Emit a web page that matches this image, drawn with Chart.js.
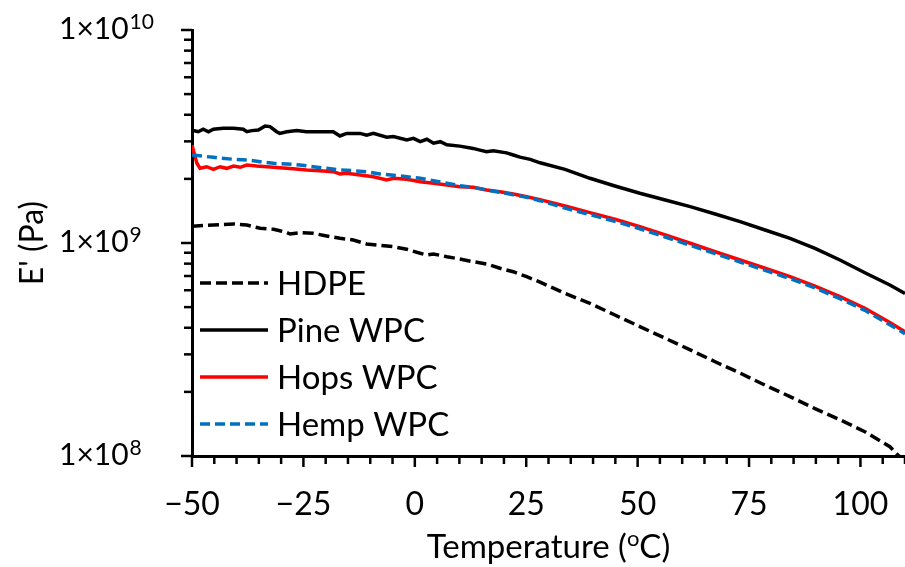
<!DOCTYPE html>
<html>
<head>
<meta charset="utf-8">
<title>E' vs temperature</title>
<script src="https://cdn.jsdelivr.net/npm/chart.js@4.4.0/dist/chart.umd.min.js"></script>
<style>
    html, body { margin: 0; padding: 0; background: #fff; }
    #wrap { width: 905px; height: 567px; position: relative; }
</style>
</head>
<body>
<div id="wrap"><canvas id="dma-chart"></canvas></div>
<script>
/* Storage modulus E' (Pa) vs temperature (oC) */
var hdpeT = [-50, -45.2, -40.7, -37.7, -34.7, -31.7, -30.3, -28.7, -28.0, -25.8, -22.8, -19.8, -16.8, -13.8, -10.8, -7.8, -4.8, -1.8, 1.2, 2.7, 4.2, 7.2, 10.1, 13.1, 16.1, 19.1, 22.1, 25.1, 28.1, 33.7, 39.3, 44.9, 50.5, 56.2, 61.8, 67.4, 73.0, 78.6, 84.2, 89.8, 95.4, 101.0, 106.6, 108.4, 110];
var hdpeE = [1.20e9, 1.215e9, 1.228e9, 1.215e9, 1.172e9, 1.160e9, 1.142e9, 1.118e9, 1.102e9, 1.118e9, 1.110e9, 1.079e9, 1.052e9, 1.033e9, 9.89e8, 9.75e8, 9.61e8, 9.34e8, 8.95e8, 8.78e8, 8.88e8, 8.62e8, 8.41e8, 8.17e8, 7.97e8, 7.61e8, 7.33e8, 6.95e8, 6.55e8, 5.80e8, 5.21e8, 4.59e8, 4.05e8, 3.57e8, 3.15e8, 2.77e8, 2.45e8, 2.15e8, 1.90e8, 1.67e8, 1.48e8, 1.30e8, 1.106e8, 1.011e8, 9.5e7];

var pineT = [-50, -48.6, -47.5, -46.3, -45.2, -43.0, -40.7, -38.5, -37.7, -36.6, -35.1, -33.6, -32.5, -31.0, -30.3, -28.7, -26.5, -24.3, -21.3, -18.3, -16.8, -15.3, -12.3, -10.8, -9.3, -6.3, -4.8, -1.8, -0.3, 1.2, 2.7, 4.2, 5.7, 7.2, 10.1, 13.1, 14.6, 16.1, 17.6, 20.6, 22.1, 23.6, 25.9, 28.1, 33.7, 39.3, 44.9, 50.5, 56.2, 61.8, 67.4, 73.0, 78.6, 84.2, 89.8, 95.4, 101.0, 106.6, 110];
var pineE = [3.39e9, 3.33e9, 3.42e9, 3.33e9, 3.42e9, 3.46e9, 3.46e9, 3.42e9, 3.33e9, 3.37e9, 3.39e9, 3.54e9, 3.52e9, 3.33e9, 3.27e9, 3.33e9, 3.37e9, 3.33e9, 3.33e9, 3.33e9, 3.18e9, 3.27e9, 3.27e9, 3.21e9, 3.27e9, 3.14e9, 3.16e9, 3.05e9, 3.10e9, 2.99e9, 3.07e9, 2.94e9, 2.99e9, 2.89e9, 2.85e9, 2.78e9, 2.73e9, 2.68e9, 2.71e9, 2.65e9, 2.59e9, 2.53e9, 2.47e9, 2.38e9, 2.218e9, 2.013e9, 1.852e9, 1.712e9, 1.592e9, 1.481e9, 1.369e9, 1.259e9, 1.151e9, 1.052e9, 9.44e8, 8.32e8, 7.25e8, 6.35e8, 5.80e8];

var hopsT = [-50, -48.9, -48.2, -46.7, -45.2, -43.7, -42.2, -40.7, -39.2, -37.7, -35.5, -33.2, -30.3, -27.3, -24.3, -21.3, -18.3, -16.8, -15.3, -12.3, -9.3, -6.3, -4.8, -1.8, 1.2, 4.2, 7.2, 10.1, 13.1, 16.1, 19.1, 22.1, 25.1, 28.1, 33.7, 39.3, 44.9, 50.5, 56.2, 61.8, 67.4, 73.0, 78.6, 84.2, 89.8, 95.4, 101.0, 106.6, 110];
var hopsE = [2.88e9, 2.367e9, 2.242e9, 2.281e9, 2.218e9, 2.281e9, 2.242e9, 2.299e9, 2.267e9, 2.324e9, 2.299e9, 2.281e9, 2.257e9, 2.233e9, 2.201e9, 2.185e9, 2.161e9, 2.108e9, 2.124e9, 2.086e9, 2.048e9, 1.976e9, 2.013e9, 1.991e9, 1.940e9, 1.907e9, 1.872e9, 1.838e9, 1.826e9, 1.774e9, 1.741e9, 1.698e9, 1.650e9, 1.598e9, 1.492e9, 1.388e9, 1.292e9, 1.193e9, 1.091e9, 9.97e8, 9.10e8, 8.32e8, 7.61e8, 6.95e8, 6.28e8, 5.60e8, 4.94e8, 4.23e8, 3.83e8];

var hempT = [-50, -45.2, -40.7, -37.7, -34.7, -31.7, -28.7, -25.8, -22.8, -19.8, -16.8, -13.8, -10.8, -7.8, -4.8, -1.8, 1.2, 4.2, 7.2, 10.1, 13.1, 16.1, 19.1, 22.1, 25.1, 28.1, 33.7, 39.3, 44.9, 50.5, 56.2, 61.8, 67.4, 73.0, 78.6, 84.2, 89.8, 95.4, 101.0, 106.6, 110];
var hempE = [2.589e9, 2.525e9, 2.472e9, 2.454e9, 2.408e9, 2.367e9, 2.349e9, 2.324e9, 2.281e9, 2.242e9, 2.201e9, 2.185e9, 2.161e9, 2.108e9, 2.079e9, 2.048e9, 2.013e9, 1.961e9, 1.907e9, 1.858e9, 1.826e9, 1.774e9, 1.730e9, 1.686e9, 1.639e9, 1.580e9, 1.460e9, 1.358e9, 1.265e9, 1.167e9, 1.067e9, 9.75e8, 8.91e8, 8.14e8, 7.44e8, 6.80e8, 6.15e8, 5.48e8, 4.83e8, 4.13e8, 3.75e8];

var seriesNames = ['HDPE', 'Pine WPC', 'Hops WPC', 'Hemp WPC'];
var xTickStep = 5, xMajorStep = 25;
var xMin = -50, xMax = 110;
var yMin = 1e8, yMax = 1e10;
var yTickValues = [1e8, 2e8, 3e8, 4e8, 5e8, 6e8, 7e8, 8e8, 9e8,
                   1e9, 2e9, 3e9, 4e9, 5e9, 6e9, 7e9, 8e9, 9e9, 1e10];

var FONT = 'Lato, "Open Sans", sans-serif';

function pts(t, e) {
    return t.map(function(v, i) { return { x: v, y: e[i] }; });
}

/* ── Axis ticks, y labels, x title, legend ── */
var decor = {
    id: 'decor',
    afterDraw: function(chart) {
        var ctx = chart.ctx, area = chart.chartArea;
        var xs = chart.scales.x, ys = chart.scales.y;
        ctx.save();
        ctx.strokeStyle = '#000';
        ctx.fillStyle = '#000';
        ctx.lineWidth = 2.5;

        // y ticks + labels
        yTickValues.forEach(function(v) {
            var y = ys.getPixelForValue(v);
            var exp = Math.round(Math.log10(v));
            var major = Math.abs(v - Math.pow(10, exp)) < 1;
            ctx.beginPath();
            ctx.moveTo(area.left - (major ? 11 : 8), y);
            ctx.lineTo(area.left, y);
            ctx.stroke();
            if (major) {
                ctx.textAlign = 'left';
                ctx.textBaseline = 'alphabetic';
                ctx.font = '30px ' + FONT;
                ctx.fillText('1\u00D710', 59, y + 9);
                var w = ctx.measureText('1\u00D710').width;
                ctx.font = '21px ' + FONT;
                ctx.fillText(String(exp), 59 + w + 1, y - 1);
            }
        });

        // x ticks
        for (var t = xMin; t <= xMax; t += xTickStep) {
            var x = xs.getPixelForValue(t);
            var big = t % xMajorStep === 0;
            ctx.beginPath();
            ctx.moveTo(x, area.bottom);
            ctx.lineTo(x, area.bottom + (big ? 11 : 8));
            ctx.stroke();
        }

        // x title with superscript o
        var a = 'Temperature (', b = 'o', c = 'C)';
        ctx.font = '33px ' + FONT;
        var wa = ctx.measureText(a).width, wc = ctx.measureText(c).width;
        ctx.font = '22px ' + FONT;
        var wb = ctx.measureText(b).width;
        var x0 = (area.left + area.right) / 2 - (wa + wb + wc) / 2;
        ctx.textAlign = 'left';
        ctx.textBaseline = 'alphabetic';
        ctx.font = '33px ' + FONT;
        ctx.fillText(a, x0, 558);
        ctx.font = '22px ' + FONT;
        ctx.fillText(b, x0 + wa, 546);
        ctx.font = '33px ' + FONT;
        ctx.fillText(c, x0 + wa + wb, 558);

        // legend inside the plot
        chart.data.datasets.forEach(function(ds, i) {
            var ly = 283 + i * 47;
            ctx.beginPath();
            ctx.strokeStyle = ds.borderColor;
            ctx.lineWidth = 3.5;
            ctx.setLineDash(ds.borderDash || []);
            ctx.moveTo(200, ly);
            ctx.lineTo(268, ly);
            ctx.stroke();
            ctx.setLineDash([]);
            ctx.font = '33px ' + FONT;
            ctx.fillStyle = '#000';
            ctx.textAlign = 'left';
            ctx.textBaseline = 'alphabetic';
            ctx.fillText(ds.label, 277, ly + 12);
        });
        ctx.restore();
    }
};

var lineBase = { pointRadius: 0, borderWidth: 3.5, fill: false, tension: 0, clip: 0 };

new Chart(document.getElementById('dma-chart'), {
    type: 'line',
    data: {
        datasets: [
            Object.assign({ label: seriesNames[0], data: pts(hdpeT, hdpeE), borderColor: '#000000', borderDash: [11, 5], order: 3 }, lineBase),
            Object.assign({ label: seriesNames[1], data: pts(pineT, pineE), borderColor: '#000000', order: 2 }, lineBase),
            Object.assign({ label: seriesNames[2], data: pts(hopsT, hopsE), borderColor: '#FF0000', order: 1 }, lineBase),
            Object.assign({ label: seriesNames[3], data: pts(hempT, hempE), borderColor: '#0070C0', borderDash: [10, 5], order: 0 }, lineBase)
        ]
    },
    options: {
        responsive: true, maintainAspectRatio: false, animation: false, devicePixelRatio: 1,
        layout: { padding: { top: 30, right: 0, left: 0, bottom: 0 } },
        plugins: { legend: { display: false }, tooltip: { enabled: false } },
        scales: {
            x: {
                type: 'linear', min: xMin, max: xMax,
                grid: { display: false, drawTicks: false },
                border: { display: true, color: '#000', width: 3 },
                ticks: {
                    stepSize: xTickStep, autoSkip: false, maxRotation: 0, padding: 29,
                    color: '#000', font: { family: FONT, size: 32 },
                    callback: function(v) { return v % xMajorStep === 0 ? String(v).replace('-', '\u2212') : ''; }
                },
                afterFit: function(s) { s.height = 111; s.paddingLeft = 0; s.paddingRight = 0; }
            },
            y: {
                type: 'logarithmic', min: yMin, max: yMax,
                grid: { display: false, drawTicks: false },
                border: { display: true, color: '#000', width: 3 },
                ticks: { display: false },
                afterBuildTicks: function(s) { s.ticks = yTickValues.map(function(v) { return { value: v }; }); },
                title: { display: true, text: "E' (Pa)", color: '#000', font: { family: FONT, size: 32 }, padding: { top: 13, bottom: 0 } },
                afterFit: function(s) { s.width = 192; s.paddingTop = 0; s.paddingBottom = 0; }
            }
        }
    },
    plugins: [decor]
});
</script>
</body>
</html>
